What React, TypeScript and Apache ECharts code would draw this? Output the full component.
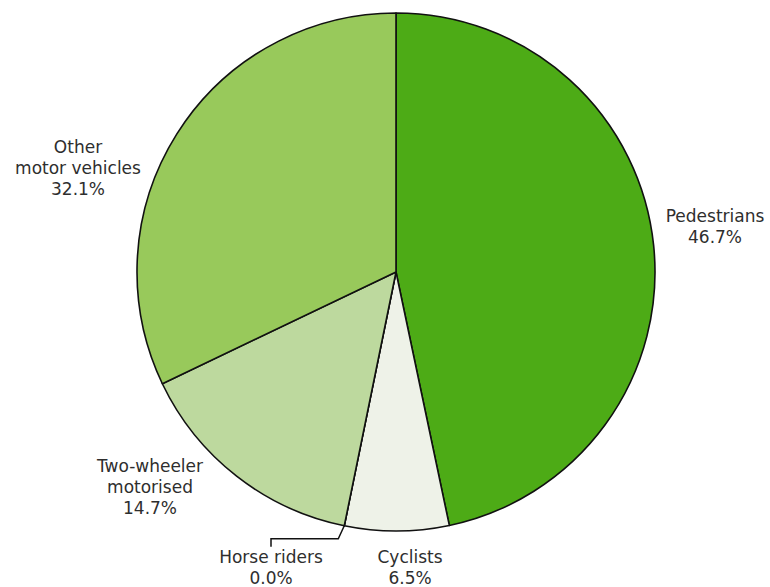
import React, { useEffect, useRef } from "react";
import * as echarts from "echarts";

const categories = ["Pedestrians", "Cyclists", "Horse riders", "Two-wheeler\nmotorised", "Other\nmotor vehicles"];
const shares = [46.7, 6.5, 0.0, 14.7, 32.1];
const colors = ["#4dab16", "#eef2e8", "#c9dcb0", "#bdd99e", "#98c95b"];

const CX = 396;
const CY = 272;
const R = 259;

// label anchor positions (text block centres)
const labelPos: [number, number][] = [
  [715, 226],
  [410, 567],
  [271, 567],
  [150, 487],
  [78, 168],
];

export default function App() {
  const ref = useRef<HTMLDivElement>(null);
  useEffect(() => {
    if (!ref.current) return;
    const chart = echarts.init(ref.current, undefined, { renderer: "svg" });
    const total = shares.reduce((a, b) => a + b, 0);
    const cum: number[] = [];
    let acc = 0;
    shares.forEach((v) => {
      cum.push(acc + v / 2);
      acc += v;
    });
    chart.setOption({
      animation: false,
      backgroundColor: "#ffffff",
      series: [
        {
          type: "pie",
          center: [CX, CY],
          radius: R,
          startAngle: 90,
          clockwise: true,
          avoidLabelOverlap: false,
          stillShowZeroSum: true,
          itemStyle: { borderColor: "#111", borderWidth: 1.6 },
          label: {
            show: true,
            position: "outside",
            fontFamily: "DejaVu Sans, Verdana, sans-serif",
            fontSize: 17,
            lineHeight: 21,
            color: "#2e2e2e",
            align: "center",
            formatter: (p: any) => `${p.name}\n${Number(p.value).toFixed(1)}%`,
          },
          labelLine: { show: false },
          labelLayout: (p: any) => {
            const i = p.dataIndex;
            const [x, y] = labelPos[i];
            const res: any = { x, y, align: "center", verticalAlign: "middle" };
            if (shares[i] === 0) {
              const ang = (cum[i] / total) * Math.PI * 2;
              const ex = CX + R * Math.sin(ang);
              const ey = CY - R * Math.cos(ang);
              res.labelLinePoints = [
                [ex, ey],
                [ex - 6, ey + 13],
                [x, ey + 13],
                [x, ey + 21],
              ];
            }
            return res;
          },
          data: categories.map((name, i) => ({
            name,
            value: shares[i],
            itemStyle: { color: colors[i] },
            labelLine:
              shares[i] === 0
                ? { show: true, length: 12, length2: 60, lineStyle: { color: "#111", width: 1.5 } }
                : { show: false },
          })),
        },
      ],
    });
    return () => chart.dispose();
  }, []);
  return (
    <div
      ref={ref}
      style={{ position: "absolute", left: 0, top: 0, width: 770, height: 587 }}
    />
  );
}
